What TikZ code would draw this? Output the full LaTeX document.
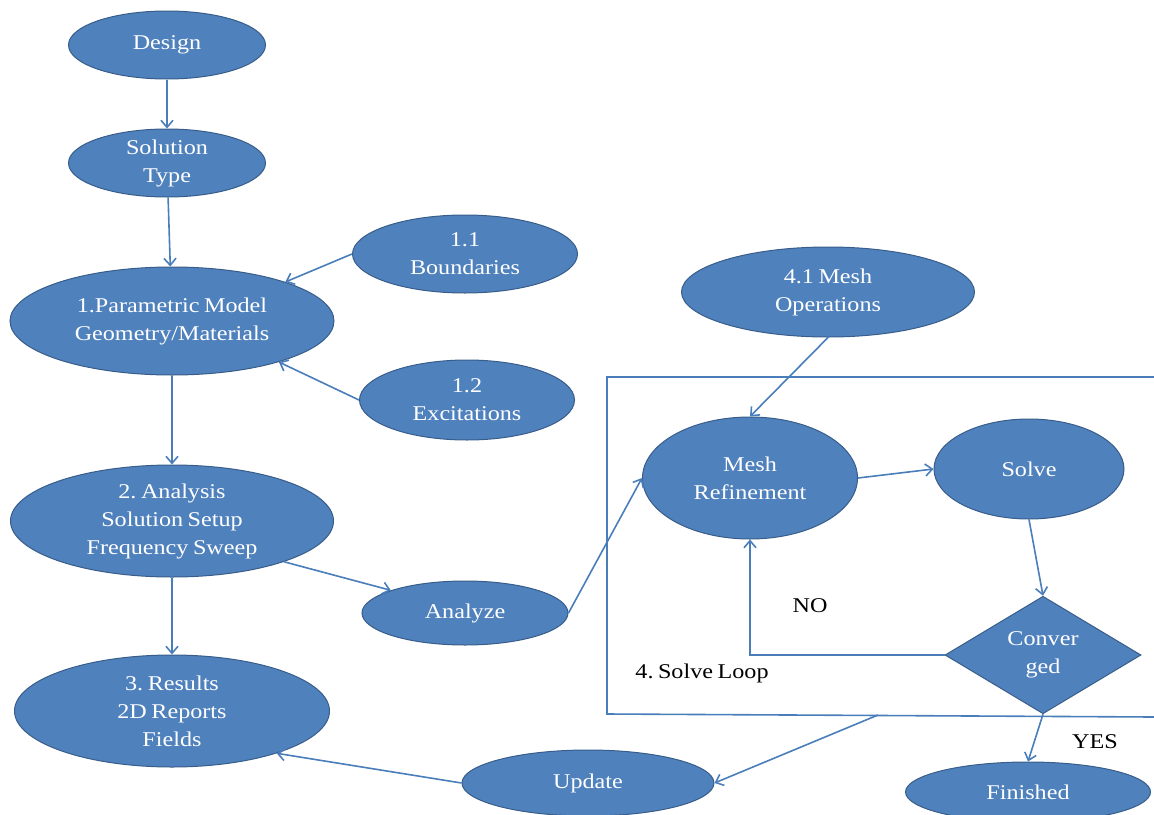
\documentclass[tikz,border=0pt]{standalone}
\usepackage{fontspec}
\setmainfont[FakeStretch=1.15,WordSpace=0.75]{Liberation Serif}
\usetikzlibrary{shapes.geometric,arrows.meta}
\definecolor{stepfill}{HTML}{4F81BD}
\definecolor{stepedge}{HTML}{385D8A}
\definecolor{flowline}{HTML}{4A7EBB}
\frenchspacing

\begin{document}
\begin{tikzpicture}[x=1pt,y=-1pt]
  \tikzset{stage/.style={ellipse,fill=stepfill,draw=stepedge,line width=1pt,inner sep=0pt,
      text=white,align=center,font=\fontsize{21}{28}\selectfont},
    check/.style={diamond,fill=stepfill,draw=stepedge,line width=1pt,inner sep=0pt,
      text=white,align=center,font=\fontsize{21}{28}\selectfont},
    tag/.style={text=black,font=\fontsize{21}{28}\selectfont},
    flow/.style={draw=flowline,line width=1.6pt,-{Straight Barb[length=7pt,width=12pt]}}}
  \useasboundingbox (0,0) rectangle (1154,814);
  % solve loop frame, open on the right
  \draw[flowline,line width=1.6pt] (1154,377) -- (607,377) -- (607,714) -- (1154,717);
  \coordinate (loopout) at (878,715);
  \node[stage,minimum width=197pt,minimum height=68pt] (design) at (167,45) {Design};
  \node[stage,minimum width=197pt,minimum height=68pt] (soltype) at (167,163) {Solution\\Type};
  \node[stage,minimum width=324pt,minimum height=108pt] (model) at (172,321) {1.Parametric Model\\Geometry/Materials};
  \node[stage,minimum width=225pt,minimum height=78pt] (bound) at (465,254) {1.1\\Boundaries};
  \node[stage,minimum width=215pt,minimum height=80pt] (excit) at (467,400) {1.2\\Excitations};
  \node[stage,minimum width=323pt,minimum height=112pt] (analysis) at (172,521) {2. Analysis\\Solution Setup\\Frequency Sweep};
  \node[stage,minimum width=315pt,minimum height=112pt] (results) at (172,711) {3. Results\\2D Reports\\Fields};
  \node[stage,minimum width=206pt,minimum height=64pt] (analyze) at (465,613) {Analyze};
  \node[stage,minimum width=252pt,minimum height=66pt] (update) at (588,783) {Update};
  \node[stage,minimum width=293pt,minimum height=90pt] (meshops) at (828,292) {4.1 Mesh\\Operations};
  \node[stage,minimum width=215pt,minimum height=122pt] (mesh) at (750,478) {Mesh\\Refinement};
  \node[stage,minimum width=190pt,minimum height=100pt] (solve) at (1029,469) {Solve};
  \node[check,minimum width=196pt,minimum height=116pt] (conv) at (1043,655) {Conver\\ged};
  \node[stage,minimum width=245pt,minimum height=60pt] (finished) at (1028,792) {Finished};
  \node[tag] (no) at (810,606) {NO};
  \node[tag] (yes) at (1095,742) {YES};
  \node[tag] (looptag) at (702,673) {4. Solve Loop};
  % connectors
  \draw[flow] (design) -- (soltype);
  \draw[flow] (soltype) -- (model);
  \draw[flow] (bound.west) -- (model.19);
  \draw[flow] (excit.west) -- (model.-21);
  \draw[flow] (model) -- (analysis);
  \draw[flow] (analysis.south) -- (results.north);
  \draw[flow] (analysis.-20) -- (analyze.163);
  \draw[flow] (analyze.east) -- (mesh.west);
  \draw[flow] (meshops.south) -- (mesh.north);
  \draw[flow] (mesh.east) -- (solve.west);
  \draw[flow] (solve.south) -- (conv.north);
  \draw[flow] (conv.west) -| (mesh.south);
  \draw[flow] (conv.south) -- (finished.north);
  \draw[flow] (loopout) -- (update.east);
  \draw[flow] (update.west) -- (results.-22);
\end{tikzpicture}
\end{document}
